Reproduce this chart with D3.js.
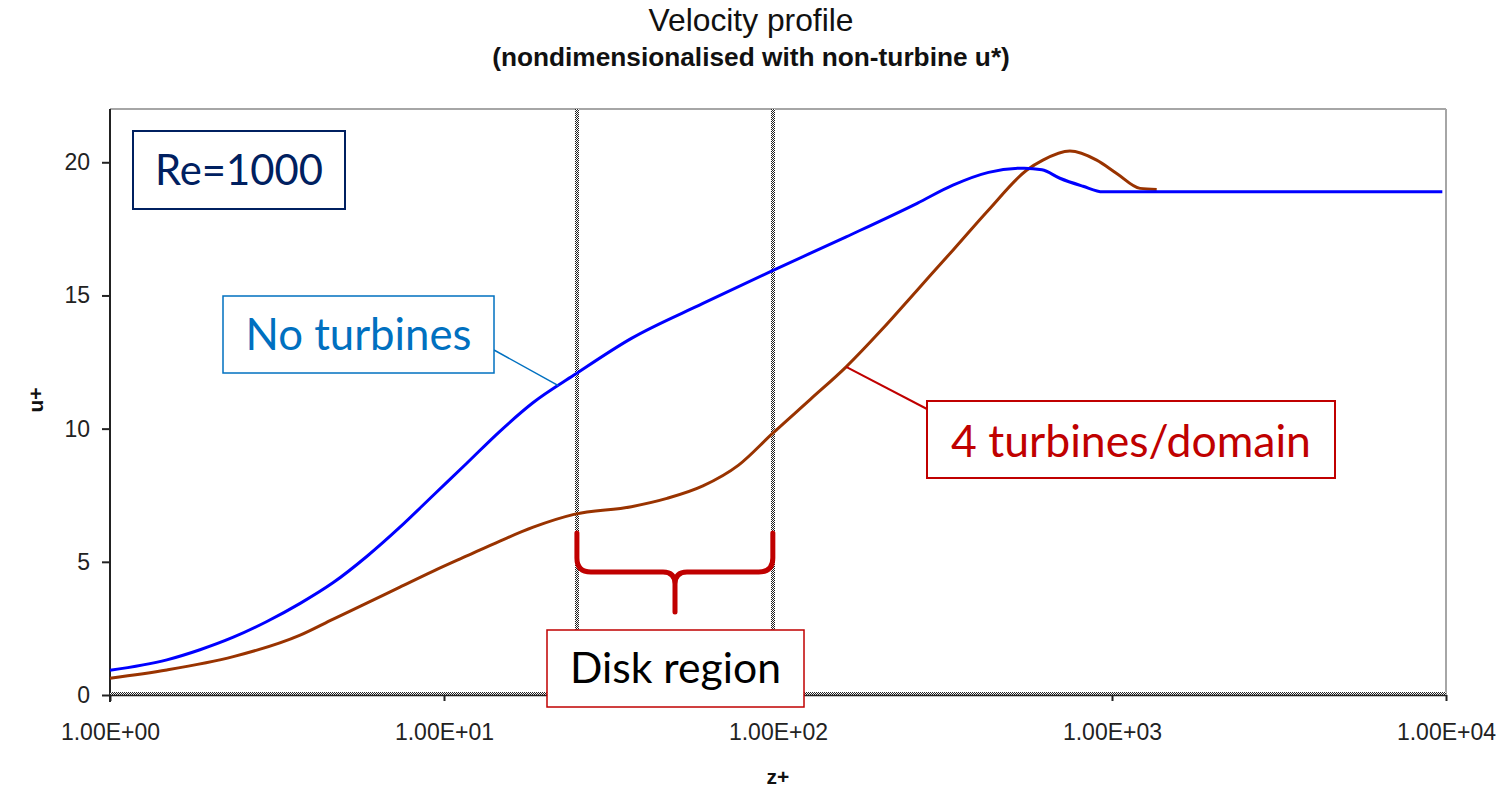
<!DOCTYPE html>
<html>
<head>
<meta charset="utf-8">
<script src="https://cdn.jsdelivr.net/npm/d3@7/dist/d3.min.js"></script>
<style>
  html, body { margin: 0; padding: 0; background: #fff; }
  svg { display: block; }
</style>
</head>
<body>
<svg id="chart" width="1509" height="794"></svg>
<script>
// ---- data -------------------------------------------------------------
// z+ positions and u+ values of the profile without turbines
const zNoTurb = [1, 1.48, 1.86, 2.34, 2.94, 3.71, 4.66, 5.87, 7.38, 9.29, 11.7, 14.7, 18.5,
                 24.5, 36.4, 59.6, 96.3, 160, 261, 334, 427, 546, 617, 698, 819, 939, 9750];
const uNoTurb = [0.93, 1.32, 1.70, 2.17, 2.75, 3.44, 4.22, 5.20, 6.30, 7.50, 8.70, 9.90, 10.98,
                 12.01, 13.39, 14.70, 15.93, 17.20, 18.46, 19.14, 19.62, 19.78, 19.72, 19.40, 19.10, 18.89, 18.89];

// z+ positions and u+ values of the profile with 4 turbines per domain
const zTurb = [1, 1.48, 2.34, 3.71, 4.66, 5.87, 7.38, 9.29, 11.7, 14.7, 18.5, 24.5, 36.4, 46.5,
               59.6, 76.2, 96.3, 125, 160, 204, 261, 334, 427, 555, 621, 748, 900, 1033, 1213, 1361];
const uTurb = [0.63, 0.94, 1.44, 2.25, 2.85, 3.45, 4.05, 4.65, 5.22, 5.78, 6.30, 6.78, 7.07, 7.38,
               7.85, 8.63, 9.82, 11.10, 12.32, 13.70, 15.20, 16.70, 18.21, 19.70, 20.08, 20.42, 20.08, 19.58, 19.02, 18.98];

// bounds of the disk region (z+)
const diskBounds = [25, 96.5];

// axis ticks
const yTicks = [0, 5, 10, 15, 20];
const xTicks = [1, 10, 100, 1000, 10000];
const xTickLabels = ["1.00E+00", "1.00E+01", "1.00E+02", "1.00E+03", "1.00E+04"];

// ---- layout -----------------------------------------------------------
const svg = d3.select("#chart");
const plot = { left: 110, right: 1446, top: 109, bottom: 695 };

const x = d3.scaleLog().domain([1, 10000]).range([plot.left, plot.right]);
const y = d3.scaleLinear().domain([0, 22]).range([plot.bottom, plot.top]);

const defs = svg.append("defs");
const checker = defs.append("pattern")
  .attr("id", "checker").attr("width", 2).attr("height", 2)
  .attr("patternUnits", "userSpaceOnUse");
checker.append("rect").attr("width", 2).attr("height", 2).attr("fill", "#fff");
checker.append("rect").attr("width", 1).attr("height", 1).attr("fill", "#222");
checker.append("rect").attr("x", 1).attr("y", 1).attr("width", 1).attr("height", 1).attr("fill", "#222");

function fitWidth(sel, target) {
  const w = sel.node().getComputedTextLength();
  const fs = parseFloat(sel.attr("font-size"));
  sel.attr("font-size", fs * target / w);
}

// ---- titles -----------------------------------------------------------
const titleX = 751;
const t1 = svg.append("text")
  .attr("x", titleX).attr("y", 31)
  .attr("text-anchor", "middle")
  .attr("font-family", "Liberation Sans, Arial, sans-serif")
  .attr("font-size", 30).attr("fill", "#111")
  .text("Velocity profile");
fitWidth(t1, 205);

const t2 = svg.append("text")
  .attr("x", titleX).attr("y", 66)
  .attr("text-anchor", "middle")
  .attr("font-family", "Liberation Sans, Arial, sans-serif")
  .attr("font-weight", "bold")
  .attr("font-size", 26).attr("fill", "#111")
  .text("(nondimensionalised with non-turbine u*)");
fitWidth(t2, 518);

// ---- plot frame ------------------------------------------------------
svg.append("line")
  .attr("x1", plot.left).attr("x2", plot.right)
  .attr("y1", plot.top).attr("y2", plot.top)
  .attr("stroke", "#a6a6a6").attr("stroke-width", 2);
svg.append("line")
  .attr("x1", plot.right).attr("x2", plot.right)
  .attr("y1", plot.top).attr("y2", plot.bottom)
  .attr("stroke", "#a6a6a6").attr("stroke-width", 2);

// ---- disk region boundaries ------------------------------------------
svg.selectAll("rect.disk")
  .data(diskBounds)
  .enter().append("rect")
  .attr("class", "disk")
  .attr("x", d => Math.round(x(d)) - 2)
  .attr("y", plot.top)
  .attr("width", 4)
  .attr("height", plot.bottom - plot.top)
  .attr("fill", "url(#checker)");

// ---- axes ------------------------------------------------------------
const yAxis = svg.append("g")
  .attr("transform", `translate(${plot.left},0)`)
  .call(d3.axisLeft(y).tickValues(yTicks).tickSize(8).tickPadding(12).tickFormat(d3.format("d")));
yAxis.select(".domain").attr("stroke", "#222").attr("stroke-width", 2)
  .attr("d", `M0,${plot.top}V${plot.bottom + 7}`);
yAxis.selectAll(".tick line").attr("stroke", "#222").attr("stroke-width", 2);
yAxis.selectAll(".tick text")
  .attr("font-family", "Liberation Sans, Arial, sans-serif")
  .attr("font-size", 23).attr("fill", "#222");

// dotted zero line along the bottom
svg.append("rect")
  .attr("x", plot.left).attr("y", plot.bottom - 3)
  .attr("width", plot.right - plot.left).attr("height", 3)
  .attr("fill", "url(#checker)");

const xAxis = svg.append("g")
  .attr("transform", `translate(0,${plot.bottom})`)
  .call(d3.axisBottom(x).tickValues(xTicks).tickSize(6).tickPadding(23)
    .tickFormat((d, i) => xTickLabels[i]));
xAxis.select(".domain").attr("stroke", "#222").attr("stroke-width", 1.5)
  .attr("d", `M${plot.left},0.5H${plot.right}`);
xAxis.selectAll(".tick line").attr("stroke", "#222").attr("stroke-width", 2);
xAxis.selectAll(".tick text")
  .attr("font-family", "Liberation Sans, Arial, sans-serif")
  .attr("font-size", 23).attr("fill", "#222");

svg.append("text")
  .attr("transform", "translate(43,400) rotate(-90)")
  .attr("text-anchor", "middle")
  .attr("font-family", "Liberation Sans, Arial, sans-serif")
  .attr("font-weight", "bold").attr("font-size", 21).attr("fill", "#111")
  .text("u+");
svg.append("text")
  .attr("x", 778).attr("y", 784)
  .attr("text-anchor", "middle")
  .attr("font-family", "Liberation Sans, Arial, sans-serif")
  .attr("font-weight", "bold").attr("font-size", 21).attr("fill", "#111")
  .text("z+");

// ---- profiles --------------------------------------------------------
const line = d3.line()
  .x(d => x(d[0]))
  .y(d => y(d[1]))
  .curve(d3.curveMonotoneX);

const seriesNoTurb = zNoTurb.map((z, i) => [z, uNoTurb[i]]);
const seriesTurb = zTurb.map((z, i) => [z, uTurb[i]]);

svg.append("path")
  .datum(seriesTurb)
  .attr("d", line)
  .attr("fill", "none")
  .attr("stroke", "#993300")
  .attr("stroke-width", 3);

svg.append("path")
  .datum(seriesNoTurb)
  .attr("d", line)
  .attr("fill", "none")
  .attr("stroke", "#0000ff")
  .attr("stroke-width", 3);

// value of a profile at a given z+, interpolated in log space
function valueAt(zs, us, z) {
  const lz = Math.log10(z);
  for (let i = 1; i < zs.length; i++) {
    if (z <= zs[i]) {
      const a = Math.log10(zs[i - 1]), b = Math.log10(zs[i]);
      const t = (lz - a) / (b - a);
      return us[i - 1] + t * (us[i] - us[i - 1]);
    }
  }
  return us[us.length - 1];
}

// ---- annotations -----------------------------------------------------
const annoFont = "Lato, 'Open Sans', sans-serif";

function labelBox(box, text, boxColor, textColor, textWidth, baseline, strokeWidth) {
  svg.append("rect")
    .attr("x", box[0]).attr("y", box[1])
    .attr("width", box[2] - box[0]).attr("height", box[3] - box[1])
    .attr("fill", "#fff").attr("stroke", boxColor).attr("stroke-width", strokeWidth);
  const t = svg.append("text")
    .attr("x", (box[0] + box[2]) / 2).attr("y", baseline)
    .attr("text-anchor", "middle")
    .attr("font-family", annoFont)
    .attr("font-size", 40).attr("fill", textColor)
    .text(text);
  fitWidth(t, textWidth);
}

// leader lines (drawn first so boxes sit on top of their ends)
const zLeadBlue = 22;
svg.append("line")
  .attr("x1", 494).attr("y1", 350)
  .attr("x2", x(zLeadBlue)).attr("y2", y(valueAt(zNoTurb, uNoTurb, zLeadBlue)))
  .attr("stroke", "#0070c0").attr("stroke-width", 1.5);

const zLeadBrown = 160;
svg.append("line")
  .attr("x1", 927).attr("y1", 409)
  .attr("x2", x(zLeadBrown)).attr("y2", y(valueAt(zTurb, uTurb, zLeadBrown)))
  .attr("stroke", "#c00000").attr("stroke-width", 2);

labelBox([133, 131, 345, 209], "Re=1000", "#002060", "#002060", 168, 185, 2);
labelBox([223, 296, 494, 373], "No turbines", "#0070c0", "#0070c0", 226, 350, 1.5);
labelBox([927, 401, 1335, 478], "4 turbines/domain", "#c00000", "#c00000", 360, 457, 2);
labelBox([547, 630, 804, 707], "Disk region", "#c00000", "#000", 211, 683, 1.5);

// curly brace spanning the disk region
const xl = x(diskBounds[0]), xr = x(diskBounds[1]), xm = 675;
const yTop = 533, yBar = 572, yTip = 612;
svg.append("path")
  .attr("d",
    `M${xl},${yTop} V${yBar - 14} Q${xl},${yBar} ${xl + 14},${yBar} H${xm - 12} Q${xm},${yBar} ${xm},${yBar + 12} V${yTip}` +
    `M${xr},${yTop} V${yBar - 14} Q${xr},${yBar} ${xr - 14},${yBar} H${xm + 12} Q${xm},${yBar} ${xm},${yBar + 12}`)
  .attr("fill", "none")
  .attr("stroke", "#c00000")
  .attr("stroke-width", 5)
  .attr("stroke-linecap", "round");
</script>
</body>
</html>
